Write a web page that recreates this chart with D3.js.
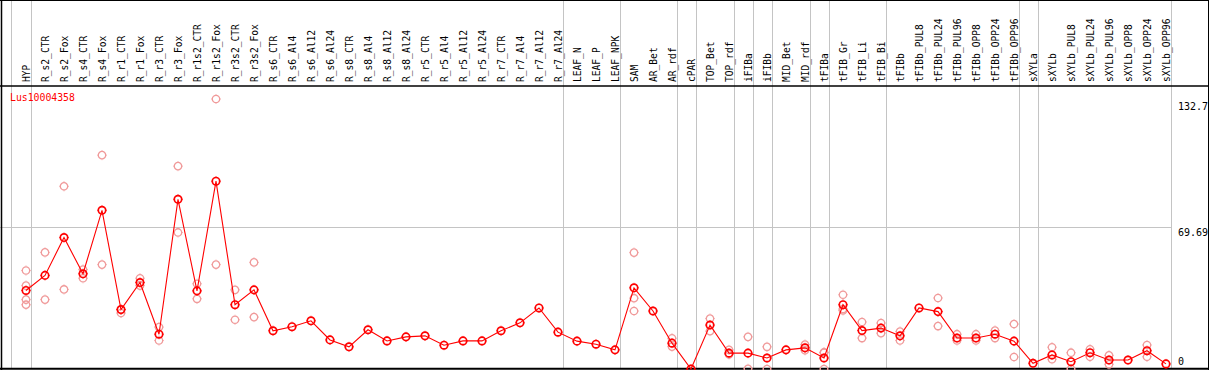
<!DOCTYPE html>
<html>
<head>
<meta charset="utf-8">
<script src="https://cdn.jsdelivr.net/npm/d3@7"></script>
<style>
  body { margin: 0; background: #fff; }
  svg { display: block; font-family: "DejaVu Sans Mono", monospace; }
</style>
</head>
<body>
<script>
var width = 1209, height = 370

// sample names (x axis)
var samples = ["HYP","R_s2_CTR","R_s2_Fox","R_s4_CTR","R_s4_Fox","R_r1_CTR","R_r1_Fox","R_r3_CTR","R_r3_Fox",
  "R_r1s2_CTR","R_r1s2_Fox","R_r3s2_CTR","R_r3s2_Fox","R_s6_CTR","R_s6_Al4","R_s6_Al12","R_s6_Al24",
  "R_s8_CTR","R_s8_Al4","R_s8_Al12","R_s8_Al24","R_r5_CTR","R_r5_Al4","R_r5_Al12","R_r5_Al24",
  "R_r7_CTR","R_r7_Al4","R_r7_Al12","R_r7_Al24","LEAF_N","LEAF_P","LEAF_NPK","SAM","AR_Bet","AR_rdf",
  "cPAR","TOP_Bet","TOP_rdf","iFIBa","iFIBb","MID_Bet","MID_rdf","tFIBa","tFIB_Gr","tFIB_Li","tFIB_Bi",
  "tFIBb","tFIBb_PUL8","tFIBb_PUL24","tFIBb_PUL96","tFIBb_OPP8","tFIBb_OPP24","tFIBb_OPP96","sXYLa",
  "sXYLb","sXYLb_PUL8","sXYLb_PUL24","sXYLb_PUL96","sXYLb_OPP8","sXYLb_OPP24","sXYLb_OPP96"]

// mean expression per sample
var means = [38.6,46.0,64.6,46.8,78.0,29.2,42.5,17.1,83.4,38.4,92.3,31.6,38.9,18.8,20.8,23.7,14.3,
  10.9,19.3,13.8,15.8,16.3,11.7,13.8,13.8,18.8,22.7,30.0,18.1,13.7,12.2,9.4,39.9,28.5,12.7,
  0,21.6,7.8,7.8,5.4,9.4,10.4,5.4,31.6,18.9,20.1,16.3,30.0,28.2,15.2,15.2,17.1,13.7,2.8,
  6.9,3.6,8.0,4.4,4.4,9.0,2.5]

// replicate values per sample
var replicates = [[48.4,41.0,34.1,31.6],[57.3,34.1],[89.8,39.1],[48.9,44.6],[105.1,51.3],[29.2,27.5],
  [44.6,41.0],[20.6,14.0],[99.7,67.1],[41.9,34.5],[132.7,51.3],[38.9,24.2],[52.4,25.5],
  [],[],[],[],[],[],[],[],[],[],[],[],[],[],[],[],[],[],[],
  [57.2,34.8,28.5],[],[15.1,11.0],[],[24.8,18.6],[9.4,7.2],[15.8,0.1],[10.9,0],[],[12.0,9.2],
  [8.2,0,8.0],[36.5,28.8,29.5],[23.1,15.2],[22.6,17.6],[18.4,14.0],[],[34.9,21.1],[17.1,14.0],
  [17.1,14.0],[18.9,15.2],[22.1,5.9],[],[10.7,4.8],[8.0,0],[9.7,6.0],[6.7,2.3],[],[11.8,6.0],[]]

// last sample of each group (separator lines)
var groupEnds = ["HYP","R_r7_Al24","LEAF_NPK","AR_rdf","cPAR","TOP_rdf","iFIBa","iFIBb","MID_rdf",
  "tFIBa","tFIB_Bi","tFIBb_OPP96","sXYLa","sXYLb_OPP96"]

var yTicks = [132.7, 69.69, 0]
var geneName = "Lus10004358"

var svg = d3.select("body").append("svg")
  .attr("width", width)
  .attr("height", height)

var x = d3.scalePoint().domain(samples).range([26, 1166])
var y = d3.scaleLinear().domain([0, 132.7]).range([369, 99])

var grey = "#c4c4c4"

// vertical separators
var seps = [x(samples[0]) - 15].concat(groupEnds.map(function(d) { return x(d) + 4.7 }))
svg.append("g")
  .selectAll("line")
  .data(seps)
  .enter().append("line")
  .attr("x1", function(d) { return Math.round(d) + 0.5 })
  .attr("x2", function(d) { return Math.round(d) + 0.5 })
  .attr("y1", 0)
  .attr("y2", 369)
  .attr("stroke", grey)
  .attr("stroke-width", 1)

// horizontal middle line
svg.append("line")
  .attr("x1", 0).attr("x2", Math.round(x(samples[samples.length - 1]) + 4.7))
  .attr("y1", Math.round(y(yTicks[1])) + 0.5)
  .attr("y2", Math.round(y(yTicks[1])) + 0.5)
  .attr("stroke", grey)

// frame
svg.append("line").attr("x1", 0).attr("x2", width).attr("y1", 0.5).attr("y2", 0.5).attr("stroke", "#000")
svg.append("line").attr("x1", 0).attr("x2", width).attr("y1", 86).attr("y2", 86).attr("stroke", "#000").attr("stroke-width", 1.5)
svg.append("line").attr("x1", 0).attr("x2", width).attr("y1", 368.8).attr("y2", 368.8).attr("stroke", "#000").attr("stroke-width", 2)
svg.append("line").attr("x1", 1.5).attr("x2", 1.5).attr("y1", 0).attr("y2", height).attr("stroke", "#000").attr("stroke-width", 1.5)
svg.append("line").attr("x1", 1208.5).attr("x2", 1208.5).attr("y1", 0).attr("y2", height).attr("stroke", "#000")

// sample labels
svg.append("g")
  .selectAll("text")
  .data(samples)
  .enter().append("text")
  .attr("transform", function(d) { return "translate(" + (x(d) + 3.8) + ",82) rotate(-90)" })
  .attr("font-size", "9.6px")
  .attr("fill", "#000")
  .text(function(d) { return d })

// right value labels
var dys = [11, 9, -4]
svg.append("g")
  .selectAll("text")
  .data(yTicks)
  .enter().append("text")
  .attr("x", 1178)
  .attr("y", function(d, i) { return y(d) + dys[i] })
  .attr("font-size", "10px")
  .attr("fill", "#000")
  .text(function(d) { return d })

svg.append("text")
  .attr("x", 10).attr("y", 101)
  .attr("font-size", "9.8px")
  .attr("fill", "#ff0000")
  .text(geneName)

function marker(g, color, sw) {
  g.append("circle").attr("r", 3.7).attr("fill", "none").attr("stroke", color).attr("stroke-width", sw)
  g.append("path").attr("d", "M0,-5V-4.3M0,4.3V5M-5,0H-4.3M4.3,0H5")
    .attr("stroke", color).attr("stroke-width", 0.9)
}

// replicate points
var repData = []
replicates.forEach(function(r, i) {
  r.forEach(function(v) { repData.push({ s: samples[i], v: v }) })
})
svg.append("g")
  .selectAll("g")
  .data(repData)
  .enter().append("g")
  .attr("transform", function(d) { return "translate(" + x(d.s) + "," + y(d.v) + ")" })
  .each(function() { marker(d3.select(this), "#f09a9a", 1.3) })

// mean line
var line = d3.line()
  .x(function(d, i) { return x(samples[i]) })
  .y(function(d) { return y(d) })

svg.append("path")
  .datum(means)
  .attr("d", line)
  .attr("fill", "none")
  .attr("stroke", "#ff0000")
  .attr("stroke-width", 1.1)

svg.append("g")
  .selectAll("g")
  .data(means)
  .enter().append("g")
  .attr("transform", function(d, i) { return "translate(" + x(samples[i]) + "," + y(d) + ")" })
  .each(function() { marker(d3.select(this), "#ff0000", 1.7) })
</script>
</body>
</html>
